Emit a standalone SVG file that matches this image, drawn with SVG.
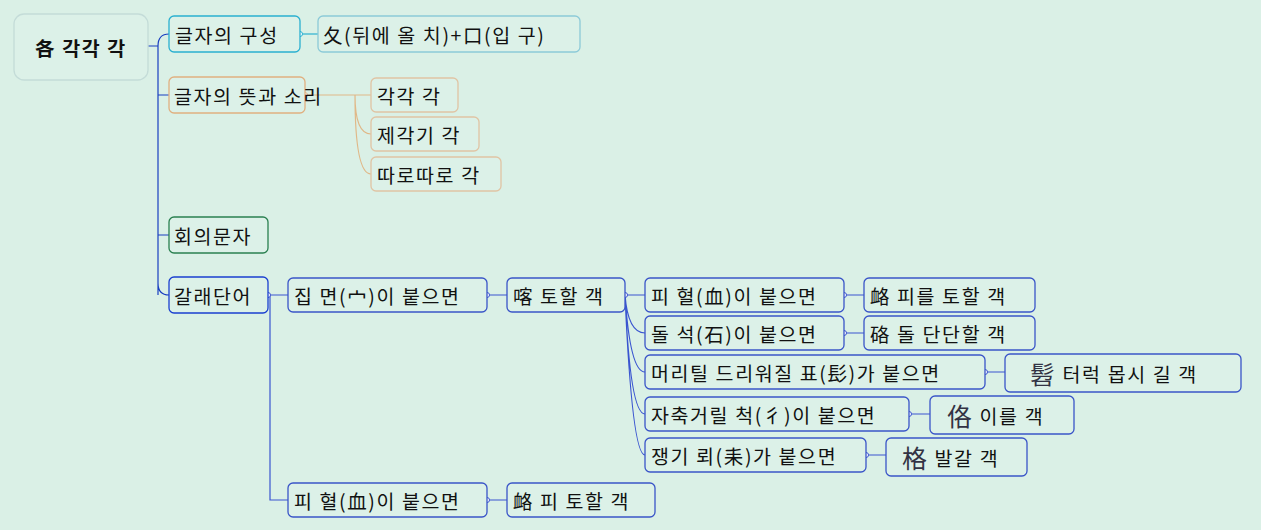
<svg xmlns="http://www.w3.org/2000/svg" width="1261" height="530" viewBox="0 0 1261 530">
<style>
text{font-family:"Noto Sans CJK KR","Noto Sans",sans-serif;font-size:19.5px;letter-spacing:1.6px;fill:#111;dominant-baseline:central}
.n{fill:#dcf1e8;stroke-width:1.3}
.b{stroke:#3a55c8}
.c path,.c line{fill:none;stroke-width:1.2}
.dot{fill:#fff;stroke-width:1}
</style>
<rect width="1261" height="530" fill="#daf0e6"/>
<g class="c">
<path d="M148 46H158V295M158 46Q158 34 169 34M158 95Q158 95 169 95M158 235H169M158 283Q158 295 169 295" stroke="#1a3fc0" stroke-width="2"/>
<path d="M300 34H318" stroke="#2ab0d0"/>
<path d="M305 95H371M355 95Q355 134 371 134M355 95Q355 174 371 174" stroke="#e0b888"/>
<path d="M268 295H288M270 295V500H288M487 295H507" stroke="#3a55d0"/>
<path d="M625 295H645M625 295Q628 333 645 333M625 295Q630 372 645 372M625 295Q630 414 645 414M625 295Q632 455 645 455M844 295H864M844 333H864M985 372H1005M909 414H930M866 455H886M487 500H507" stroke="#3a55d0"/>
<circle class="dot" cx="300" cy="34" r="2.5" stroke="#2ab0d0"/>
<circle class="dot" cx="305" cy="95" r="2.5" stroke="#e0b888"/>
<circle class="dot" cx="268" cy="295" r="2.5" stroke="#3a55d0"/>
<circle class="dot" cx="487" cy="295" r="2.5" stroke="#3a55d0"/>
<circle class="dot" cx="625" cy="295" r="2.5" stroke="#3a55d0"/>
<circle class="dot" cx="844" cy="295" r="2.5" stroke="#3a55d0"/>
<circle class="dot" cx="844" cy="333" r="2.5" stroke="#3a55d0"/>
<circle class="dot" cx="985" cy="372" r="2.5" stroke="#3a55d0"/>
<circle class="dot" cx="909" cy="414" r="2.5" stroke="#3a55d0"/>
<circle class="dot" cx="866" cy="455" r="2.5" stroke="#3a55d0"/>
<circle class="dot" cx="487" cy="500" r="2.5" stroke="#3a55d0"/>
</g>
<g id="root"><rect class="n" x="14" y="14" width="134" height="66" rx="10" stroke="#c4dcd8"/><text x="81" y="47" text-anchor="middle" font-weight="bold" font-size="21">各 각각 각</text></g>
<g id="n1"><rect class="n" x="169" y="16" width="131" height="36" rx="5" stroke="#2ab0d0" stroke-width="2"/><text x="175" y="34">글자의 구성</text></g>
<g id="n1a"><rect class="n" x="318" y="16" width="262" height="36" rx="5" stroke="#8ccad8"/><text x="323" y="34">夂(뒤에 올 치)+口(입 구)</text></g>
<g id="n2"><rect class="n" x="169" y="77" width="136" height="36" rx="5" stroke="#e0b080" stroke-width="2"/><text x="174" y="95" letter-spacing="0.6">글자의 뜻과 소리</text></g>
<g id="n2a"><rect class="n" x="371" y="78" width="87" height="34" rx="5" stroke="#e0c4a4"/><text x="377" y="95">각각 각</text></g>
<g id="n2b"><rect class="n" x="371" y="117" width="108" height="34" rx="5" stroke="#e0c4a4"/><text x="377" y="134">제각기 각</text></g>
<g id="n2c"><rect class="n" x="371" y="157" width="130" height="34" rx="5" stroke="#e0c4a4"/><text x="377" y="174">따로따로 각</text></g>
<g id="n3"><rect class="n" x="169" y="217" width="99" height="36" rx="5" stroke="#2a8050" stroke-width="2"/><text x="174" y="235">회의문자</text></g>
<g id="n4"><rect class="n" x="169" y="277" width="99" height="36" rx="5" stroke="#1a3fd0" stroke-width="2"/><text x="174" y="295">갈래단어</text></g>
<g id="n5"><rect class="n b" x="288" y="278" width="199" height="34" rx="5"/><text x="294" y="295">집 면(宀)이 붙으면</text></g>
<g id="n6"><rect class="n b" x="507" y="278" width="118" height="34" rx="5"/><text x="513" y="295">喀 토할 객</text></g>
<g id="n7"><rect class="n b" x="645" y="278" width="199" height="34" rx="5"/><text x="651" y="295">피 혈(血)이 붙으면</text></g>
<g id="n7a"><rect class="n b" x="864" y="278" width="171" height="34" rx="5"/><text x="870" y="295">衉 피를 토할 객</text></g>
<g id="n8"><rect class="n b" x="645" y="316" width="199" height="34" rx="5"/><text x="651" y="333">돌 석(石)이 붙으면</text></g>
<g id="n8a"><rect class="n b" x="864" y="316" width="171" height="34" rx="5"/><text x="870" y="333">硌 돌 단단할 객</text></g>
<g id="n9"><rect class="n b" x="645" y="355" width="340" height="34" rx="5"/><text x="651" y="372">머리틸 드리워질 표(髟)가 붙으면</text></g>
<g id="n9a"><rect class="n b" x="1005" y="354" width="236" height="38" rx="5"/><text x="1030" y="373"><tspan font-size="25" fill="#334">髫</tspan> 터럭 몹시 길 객</text></g>
<g id="n10"><rect class="n b" x="645" y="397" width="264" height="34" rx="5"/><text x="651" y="414">자축거릴 척(彳)이 붙으면</text></g>
<g id="n10a"><rect class="n b" x="930" y="396" width="144" height="38" rx="5"/><text x="947" y="415"><tspan font-size="25" fill="#334">佫</tspan> 이를 객</text></g>
<g id="n11"><rect class="n b" x="645" y="438" width="221" height="34" rx="5"/><text x="651" y="455">쟁기 뢰(耒)가 붙으면</text></g>
<g id="n11a"><rect class="n b" x="886" y="438" width="141" height="38" rx="5"/><text x="902" y="457"><tspan font-size="25" fill="#334">格</tspan> 발갈 객</text></g>
<g id="n12"><rect class="n b" x="288" y="483" width="199" height="34" rx="5"/><text x="294" y="500">피 혈(血)이 붙으면</text></g>
<g id="n12a"><rect class="n b" x="507" y="483" width="148" height="34" rx="5"/><text x="513" y="500">衉 피 토할 객</text></g>
</svg>
